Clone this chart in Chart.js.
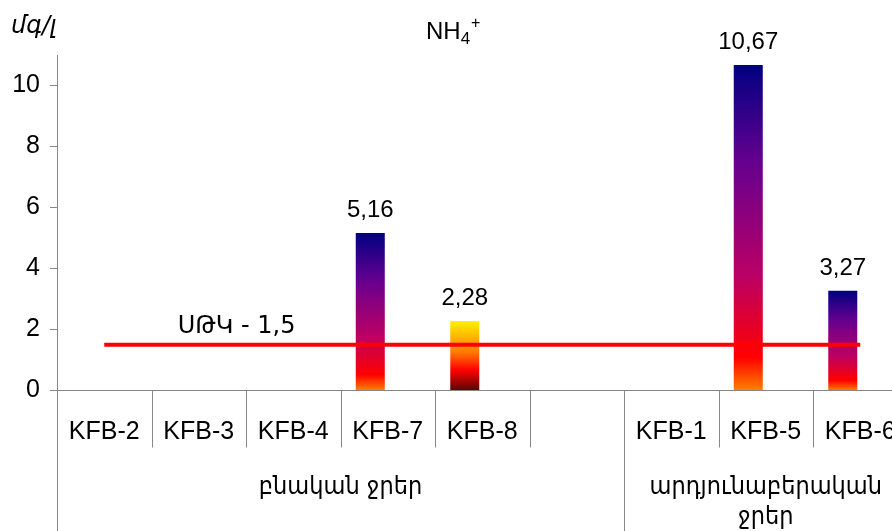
<!DOCTYPE html>
<html>
<head>
<meta charset="utf-8">
<script src="https://cdn.jsdelivr.net/npm/chart.js@4/dist/chart.umd.min.js"></script>
<style>
  html, body { margin: 0; padding: 0; background: #fff; overflow: hidden; }
  canvas { display: block; }
</style>
</head>
<body>
<canvas id="nh4" width="920" height="531" style="width:920px;height:531px"></canvas>
<script>
// Sampling points (lower axis row) and their water-type groups (upper axis row)
const categories = ['KFB-2', 'KFB-3', 'KFB-4', 'KFB-7', 'KFB-8', '', 'KFB-1', 'KFB-5', 'KFB-6'];
const groupNames = [['բնական ջրեր'], ['արդյունաբերական', 'ջրեր']];
const groupSizes = [6, 3];

// NH4+ concentration, mg/l
const ammonium = [null, null, null, 5.16, 2.28, null, null, 10.67, 3.27];
// empty companion series (keeps the bars shifted left inside each slot)
const companion = [null, null, null, null, null, null, null, null, null];
// maximum permissible concentration
const limitValues = [1.5, 1.5, 1.5, 1.5, 1.5, 1.5, 1.5, 1.5, 1.5];
const limitText = 'ՍԹԿ - 1,5';

const yTicks = [0, 2, 4, 6, 8, 10];
const yMax = 11;

const titleMain = 'NH';
const titleSub = '4';
const titleSup = '+';
const unitText = 'մգ/լ';

// ---- styling ----
const FONT = '"Liberation Sans", Arial, "DejaVu Sans", sans-serif';
const ARM_FONT = '"DejaVu Sans", "Liberation Sans", sans-serif';
const ARM_COND = '"DejaVu Sans Condensed", "DejaVu Sans", sans-serif';
const AXIS_GREY = '#868686';
const FIRE_BARS = ['KFB-8'];
const LATE_SUNSET = [[0, '#000082'], [0.3, '#66008F'], [0.645, '#BA0066'], [0.9, '#FF0000'], [1, '#FF8200']];
const FIRE = [[0, '#FFF200'], [0.45, '#FF7A00'], [0.7, '#FF0300'], [1, '#5A0505']];

function barFill(ctx) {
  const chart = ctx.chart;
  const y = chart.scales && chart.scales.y;
  const v = ctx.raw;
  if (!y || v == null || !isFinite(y.getPixelForValue(v))) return '#66008F';
  const top = y.getPixelForValue(v);
  const base = y.getPixelForValue(0);
  const stops = FIRE_BARS.includes(categories[ctx.dataIndex]) ? FIRE : LATE_SUNSET;
  const g = chart.ctx.createLinearGradient(0, top, 0, base);
  stops.forEach(([o, c]) => g.addColorStop(o, c));
  return g;
}

const decorations = {
  id: 'decorations',
  afterDraw(chart) {
    const c = chart.ctx;
    const x = chart.scales.x;
    const y = chart.scales.y;
    const area = chart.chartArea;
    const H = chart.height;
    c.save();

    // category separators and group boundaries
    c.strokeStyle = AXIS_GREY;
    c.lineWidth = 1;
    const boundaries = new Set([0]);
    let acc = 0;
    groupSizes.forEach(n => { acc += n; boundaries.add(acc); });
    for (let i = 0; i <= categories.length; i++) {
      const bx = Math.round(x.getPixelForValue(i - 0.5)) + 0.5;
      const long = boundaries.has(i);
      c.beginPath();
      c.moveTo(bx, area.bottom);
      c.lineTo(bx, long ? H : area.bottom + 57);
      c.stroke();
    }

    // category labels
    c.fillStyle = '#000';
    c.textAlign = 'center';
    c.textBaseline = 'alphabetic';
    c.font = '25px ' + FONT;
    categories.forEach((name, i) => {
      if (name) c.fillText(name, x.getPixelForValue(i), area.bottom + 48);
    });

    // group labels
    c.font = '25px ' + ARM_COND;
    let start = 0;
    groupSizes.forEach((n, gi) => {
      const cx = (x.getPixelForValue(start - 0.5) + x.getPixelForValue(start + n - 0.5)) / 2;
      groupNames[gi].forEach((line, li) => {
        c.fillText(line, cx, area.bottom + 103 + li * 30);
      });
      start += n;
    });

    // limit label
    c.font = '24px ' + ARM_FONT;
    c.fillText(limitText, x.getPixelForValue(1.4), y.getPixelForValue(limitValues[0]) - 12);

    // value labels above bars
    c.font = '24px ' + FONT;
    const meta = chart.getDatasetMeta(0);
    meta.data.forEach((bar, i) => {
      const v = ammonium[i];
      if (v == null) return;
      c.fillText(v.toFixed(2).replace('.', ','), bar.x, bar.y - 16);
    });

    // title NH4+
    c.textAlign = 'left';
    c.font = '24px ' + FONT;
    const tx = 426, ty = 39;
    c.fillText(titleMain, tx, ty);
    const w = c.measureText(titleMain).width;
    c.font = '17px ' + FONT;
    c.fillText(titleSub, tx + w, ty + 5);
    const ws = c.measureText(titleSub).width;
    c.font = '16px ' + FONT;
    c.fillText(titleSup, tx + w + ws + 1, ty - 11);

    // unit
    c.font = 'italic 24px ' + ARM_FONT;
    c.fillText(unitText, 11, 33);

    c.restore();
  },
  beforeDatasetsDraw(chart) {
    // extend the value axis line down through the category rows
    const c = chart.ctx;
    const area = chart.chartArea;
    c.save();
    c.strokeStyle = AXIS_GREY;
    c.lineWidth = 1;
    c.beginPath();
    c.moveTo(Math.round(area.left) + 0.5, area.bottom);
    c.lineTo(Math.round(area.left) + 0.5, chart.height);
    c.stroke();
    c.restore();
  }
};

new Chart(document.getElementById('nh4'), {
  data: {
    labels: categories,
    datasets: [
      {
        type: 'bar', label: 'NH4+', data: ammonium, order: 1,
        backgroundColor: barFill, borderWidth: 0,
        categoryPercentage: 0.74, barPercentage: 0.83
      },
      {
        type: 'bar', label: '', data: companion, order: 2,
        backgroundColor: 'transparent', borderWidth: 0,
        categoryPercentage: 0.74, barPercentage: 0.83
      },
      {
        type: 'line', label: 'ՍԹԿ', data: limitValues, order: 0,
        borderColor: '#FF0000', borderWidth: 4, pointRadius: 0,
        pointHoverRadius: 0, tension: 0, fill: false
      }
    ]
  },
  options: {
    responsive: false,
    devicePixelRatio: 1,
    animation: false,
    events: [],
    layout: { padding: { top: 55, right: 12.5, left: 0, bottom: 0 } },
    plugins: { legend: { display: false }, title: { display: false }, tooltip: { enabled: false } },
    scales: {
      x: {
        type: 'category',
        offset: true,
        grid: { display: false },
        ticks: { display: false },
        border: { display: true, color: AXIS_GREY, width: 1 },
        afterFit(s) { s.height = 140.5; }
      },
      y: {
        min: 0, max: yMax,
        afterBuildTicks(s) { s.ticks = yTicks.map(v => ({ value: v })); },
        afterFit(s) { s.width = 57; },
        grid: { drawOnChartArea: false, drawTicks: true, tickLength: 7, color: AXIS_GREY },
        border: { display: true, color: AXIS_GREY, width: 1 },
        ticks: { padding: 10, color: '#000', font: { family: FONT, size: 25 } }
      }
    }
  },
  plugins: [decorations]
});
</script>
</body>
</html>
